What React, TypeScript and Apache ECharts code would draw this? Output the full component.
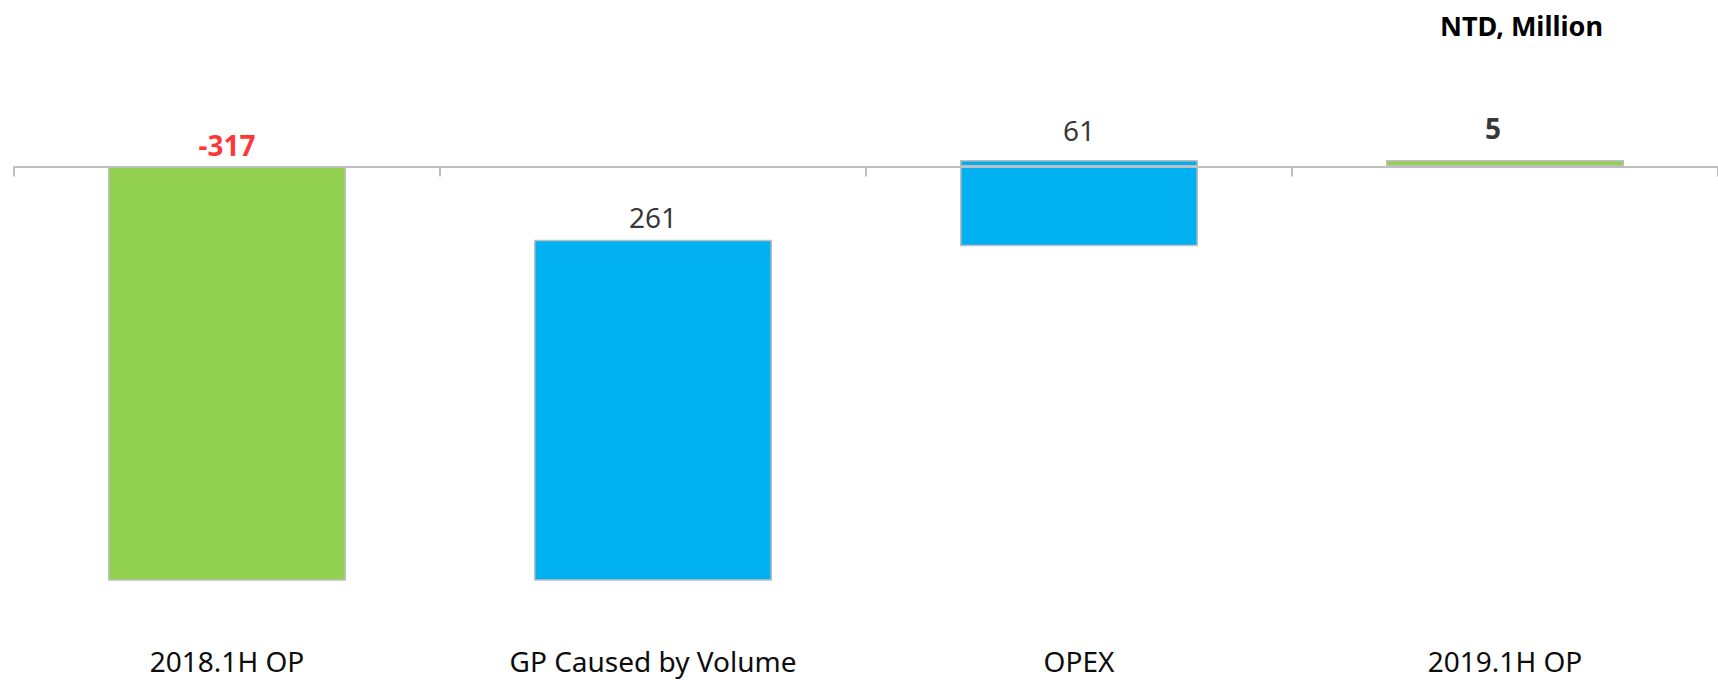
import React, { useEffect, useRef } from "react";
import * as echarts from "echarts";

// ---- data ----
const categories = ["2018.1H OP", "GP Caused by Volume", "OPEX", "2019.1H OP"];
const totals: (number | string)[] = [-317, "-", "-", 5];
const hiddenBase: (number | string)[] = ["-", -56, "-", "-"];
const changeDown: (number | string)[] = ["-", -261, -61, "-"];
const changeUp: (number | string)[] = ["-", "-", 5, "-"];
const labelAnchors = [0, -56, 5, 5];
const labelTexts = ["-317", "261", "61", "5"];
const unitText = "NTD, Million";

// ---- styles ----
const GREEN = "#92d050";
const BLUE = "#00b0f0";
const BORDER = "#bfbfbf";
const FONT = "Noto Sans";
const labelStyles = [
  { color: "#ff0000", fontWeight: "bold", distance: 7.5, offset: [0, 0] },
  { color: "#000000", fontWeight: "normal", distance: 9, offset: [0, 0] },
  { color: "#000000", fontWeight: "normal", distance: 16, offset: [0, 0] },
  { color: "#000000", fontWeight: "bold", distance: 18, offset: [-12, 0] },
];

export default function App() {
  const ref = useRef<HTMLDivElement>(null);
  useEffect(() => {
    if (!ref.current) return;
    const chart = echarts.init(ref.current, undefined, { renderer: "svg" });
    const barCommon = {
      type: "bar",
      stack: "w",
      barWidth: 238,
      xAxisIndex: 0,
      yAxisIndex: 0,
    };
    chart.setOption({
      animation: false,
      backgroundColor: "#ffffff",
      title: {
        text: unitText,
        right: 115,
        top: 11,
        padding: 0,
        textStyle: {
          fontFamily: FONT,
          fontSize: 27,
          fontWeight: "bold",
          color: "#000000",
          lineHeight: 28,
        },
      },
      grid: { left: 14, top: 35.84, width: 1716, height: 601, containLabel: false },
      xAxis: [
        {
          type: "category",
          data: categories,
          position: "bottom",
          axisLine: { show: true, onZero: true, lineStyle: { color: BORDER, width: 2 } },
          axisTick: { show: true, length: 10, lineStyle: { color: BORDER, width: 2 } },
          axisLabel: { show: false },
          splitLine: { show: false },
        },
        {
          type: "category",
          data: categories,
          position: "bottom",
          axisLine: { show: false, onZero: false },
          axisTick: { show: false },
          axisLabel: {
            show: true,
            margin: 10,
            fontFamily: FONT,
            fontSize: 28,
            color: "#0d0d0d",
            verticalAlign: "top",
            lineHeight: 28,
          },
          splitLine: { show: false },
        },
      ],
      yAxis: { type: "value", min: -360, max: 100, show: false, splitLine: { show: false } },
      series: [
        {
          ...barCommon,
          name: "total",
          data: totals,
          itemStyle: { color: GREEN, borderColor: BORDER, borderWidth: 1.5 },
        },
        {
          ...barCommon,
          name: "base",
          data: hiddenBase,
          itemStyle: { color: "rgba(0,0,0,0)", borderWidth: 0 },
          emphasis: { disabled: true },
        },
        {
          ...barCommon,
          name: "down",
          data: changeDown,
          itemStyle: { color: BLUE, borderColor: BORDER, borderWidth: 1.5 },
        },
        {
          ...barCommon,
          name: "up",
          data: changeUp,
          itemStyle: { color: BLUE, borderColor: BORDER, borderWidth: 1.5 },
        },
        {
          type: "scatter",
          name: "labels",
          xAxisIndex: 0,
          yAxisIndex: 0,
          symbolSize: 0,
          z: 10,
          data: labelAnchors.map((v, i) => ({
            value: [i, v],
            label: {
              show: true,
              position: "top",
              formatter: labelTexts[i],
              distance: labelStyles[i].distance,
              offset: labelStyles[i].offset,
              color: labelStyles[i].color,
              fontWeight: labelStyles[i].fontWeight,
              fontFamily: FONT,
              fontSize: 28,
              lineHeight: 28,
            },
          })),
        },
      ],
    });
    return () => chart.dispose();
  }, []);
  return (
    <div
      ref={ref}
      style={{ position: "absolute", left: 0, top: 0, width: 1718, height: 680 }}
    />
  );
}
